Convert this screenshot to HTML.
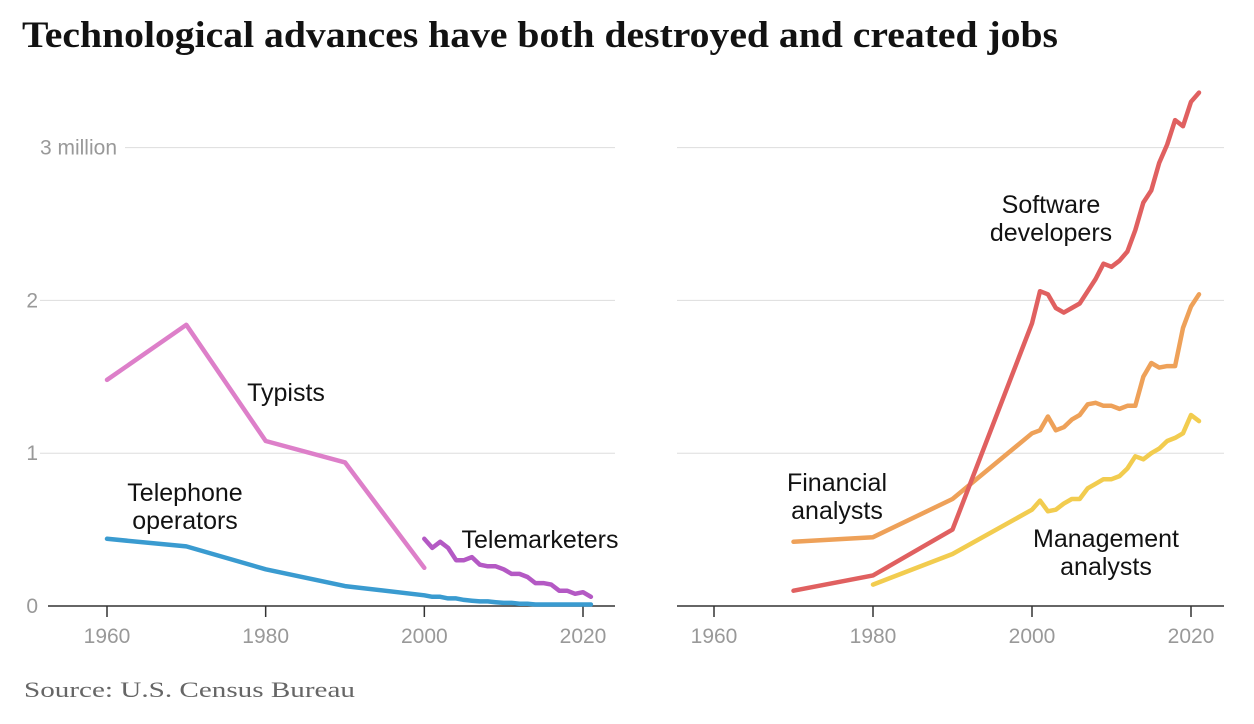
<!DOCTYPE html>
<html><head><meta charset="utf-8"><style>
body{margin:0;background:#fff;width:1254px;height:724px;overflow:hidden;}
svg{display:block}
</style></head><body>
<svg width="1254" height="724" id="c">
<text x="22" y="47" font-family="Liberation Serif, serif" font-weight="bold" font-size="37" fill="#121212" textLength="1036" lengthAdjust="spacingAndGlyphs">Technological advances have both destroyed and created jobs</text>
<text x="24" y="697" font-family="Liberation Serif, serif" font-size="22" fill="#666" textLength="331" lengthAdjust="spacingAndGlyphs">Source: U.S. Census Bureau</text>
</svg>
<script>
const leftYears=[1960,1970,1980,1990,2000];
const typists=[1.48,1.84,1.08,0.94,0.25];
const phoneYears=[1960,1970,1980,1990,2000,2001,2002,2003,2004,2005,2006,2007,2008,2009,2010,2011,2012,2013,2014,2015,2016,2017,2018,2019,2020,2021];
const phoneOps=[0.44,0.39,0.24,0.13,0.07,0.06,0.06,0.05,0.05,0.04,0.035,0.03,0.03,0.025,0.02,0.02,0.015,0.015,0.01,0.01,0.01,0.01,0.01,0.01,0.01,0.01];
const teleYears=[2000,2001,2002,2003,2004,2005,2006,2007,2008,2009,2010,2011,2012,2013,2014,2015,2016,2017,2018,2019,2020,2021];
const telemarketers=[0.44,0.38,0.42,0.38,0.30,0.30,0.32,0.27,0.26,0.26,0.24,0.21,0.21,0.19,0.15,0.15,0.14,0.10,0.10,0.08,0.09,0.06];
const softYears=[1970,1980,1990,2000,2001,2002,2003,2004,2005,2006,2007,2008,2009,2010,2011,2012,2013,2014,2015,2016,2017,2018,2019,2020,2021];
const software=[0.10,0.20,0.50,1.85,2.06,2.04,1.95,1.92,1.95,1.98,2.06,2.14,2.24,2.22,2.26,2.32,2.46,2.64,2.72,2.90,3.02,3.18,3.14,3.30,3.36];
const finYears=softYears;
const financial=[0.42,0.45,0.70,1.13,1.15,1.24,1.15,1.17,1.22,1.25,1.32,1.33,1.31,1.31,1.29,1.31,1.31,1.50,1.59,1.56,1.57,1.57,1.82,1.96,2.04];
const mgmtYears=[1980,1990,2000,2001,2002,2003,2004,2005,2006,2007,2008,2009,2010,2011,2012,2013,2014,2015,2016,2017,2018,2019,2020,2021];
const management=[0.14,0.34,0.63,0.69,0.62,0.63,0.67,0.70,0.70,0.77,0.80,0.83,0.83,0.85,0.90,0.98,0.96,1.00,1.03,1.08,1.10,1.13,1.25,1.21];
const xTicks=[1960,1980,2000,2020];
const yTicks=[1,2,3];
const yTickLabels=["1","2","3 million"];

const NS="http://www.w3.org/2000/svg";
const svg=document.getElementById('c');
function y(v){return 606-v*152.8;}
function xL(yr){return 107+(yr-1960)*(476/60);}
function xR(yr){return 714+(yr-1960)*(477/60);}
function el(t,a,txt){const e=document.createElementNS(NS,t);for(const k in a)e.setAttribute(k,a[k]);if(txt!==undefined)e.textContent=txt;svg.appendChild(e);return e;}
const F='Liberation Sans, sans-serif';
yTicks.forEach((v,i)=>{
 let g=el('line',{x1:i==2?125:40,x2:615,y1:y(v),y2:y(v),stroke:'#ddd','stroke-width':1});
 
 
 let g2=el('line',{x1:677,x2:1224,y1:y(v),y2:y(v),stroke:'#ddd','stroke-width':1});
 
 
 let t=el('text',{x:i==2?117:38,y:y(v)+7,'text-anchor':'end','font-family':F,'font-size':21,fill:'#999'},yTickLabels[i]);
 
 
});
let z=el('text',{x:38,y:613,'text-anchor':'end','font-family':F,'font-size':21,fill:'#999'},'0');


[[48,615,xL],[677,1224,xR]].forEach(([a,b,fx],k)=>{
 let ax=el('line',{x1:a,x2:b,y1:606,y2:606,stroke:'#333','stroke-width':1.5});
 
 
 xTicks.forEach(t=>{
  let tk=el('line',{x1:fx(t),x2:fx(t),y1:606,y2:617,stroke:'#333','stroke-width':1.5});
  
  
  let tl=el('text',{x:fx(t),y:643,'text-anchor':'middle','font-family':F,'font-size':21,fill:'#999'},t);
  
  
 });
});
function line(xs,vs,fx,color,name){
 const d=xs.map((yr,i)=>(i?'L':'M')+fx(yr).toFixed(1)+','+y(vs[i]).toFixed(1)).join('');
 let p=el('path',{d:d,fill:'none',stroke:color,'stroke-width':4.5,'stroke-linejoin':'round','stroke-linecap':'round'});
 
 
}
line(leftYears,typists,xL,'#dd7fc9','typists-line');
line(phoneYears,phoneOps,xL,'#3a9bd0','telephone-operators-line');
line(teleYears,telemarketers,xL,'#b459c4','telemarketers-line');
line(finYears,financial,xR,'#eea159','financial-analysts-line');
line(mgmtYears,management,xR,'#f2cc4f','management-analysts-line');
line(softYears,software,xR,'#e06060','software-developers-line');
function lab(x,yy,lines,name){
 lines.forEach((s,i)=>{
  let t=el('text',{x:x,y:yy+i*28,'text-anchor':'middle','font-family':F,'font-size':25,fill:'#121212'},s);
  
  
 });
}
lab(286,401,['Typists'],'typists-label');
lab(185,501,['Telephone','operators'],'telephone-operators-label');
lab(540,548,['Telemarketers'],'telemarketers-label');
lab(1051,213,['Software','developers'],'software-developers-label');
lab(837,491,['Financial','analysts'],'financial-analysts-label');
lab(1106,547,['Management','analysts'],'management-analysts-label');
</script>
</body></html>
